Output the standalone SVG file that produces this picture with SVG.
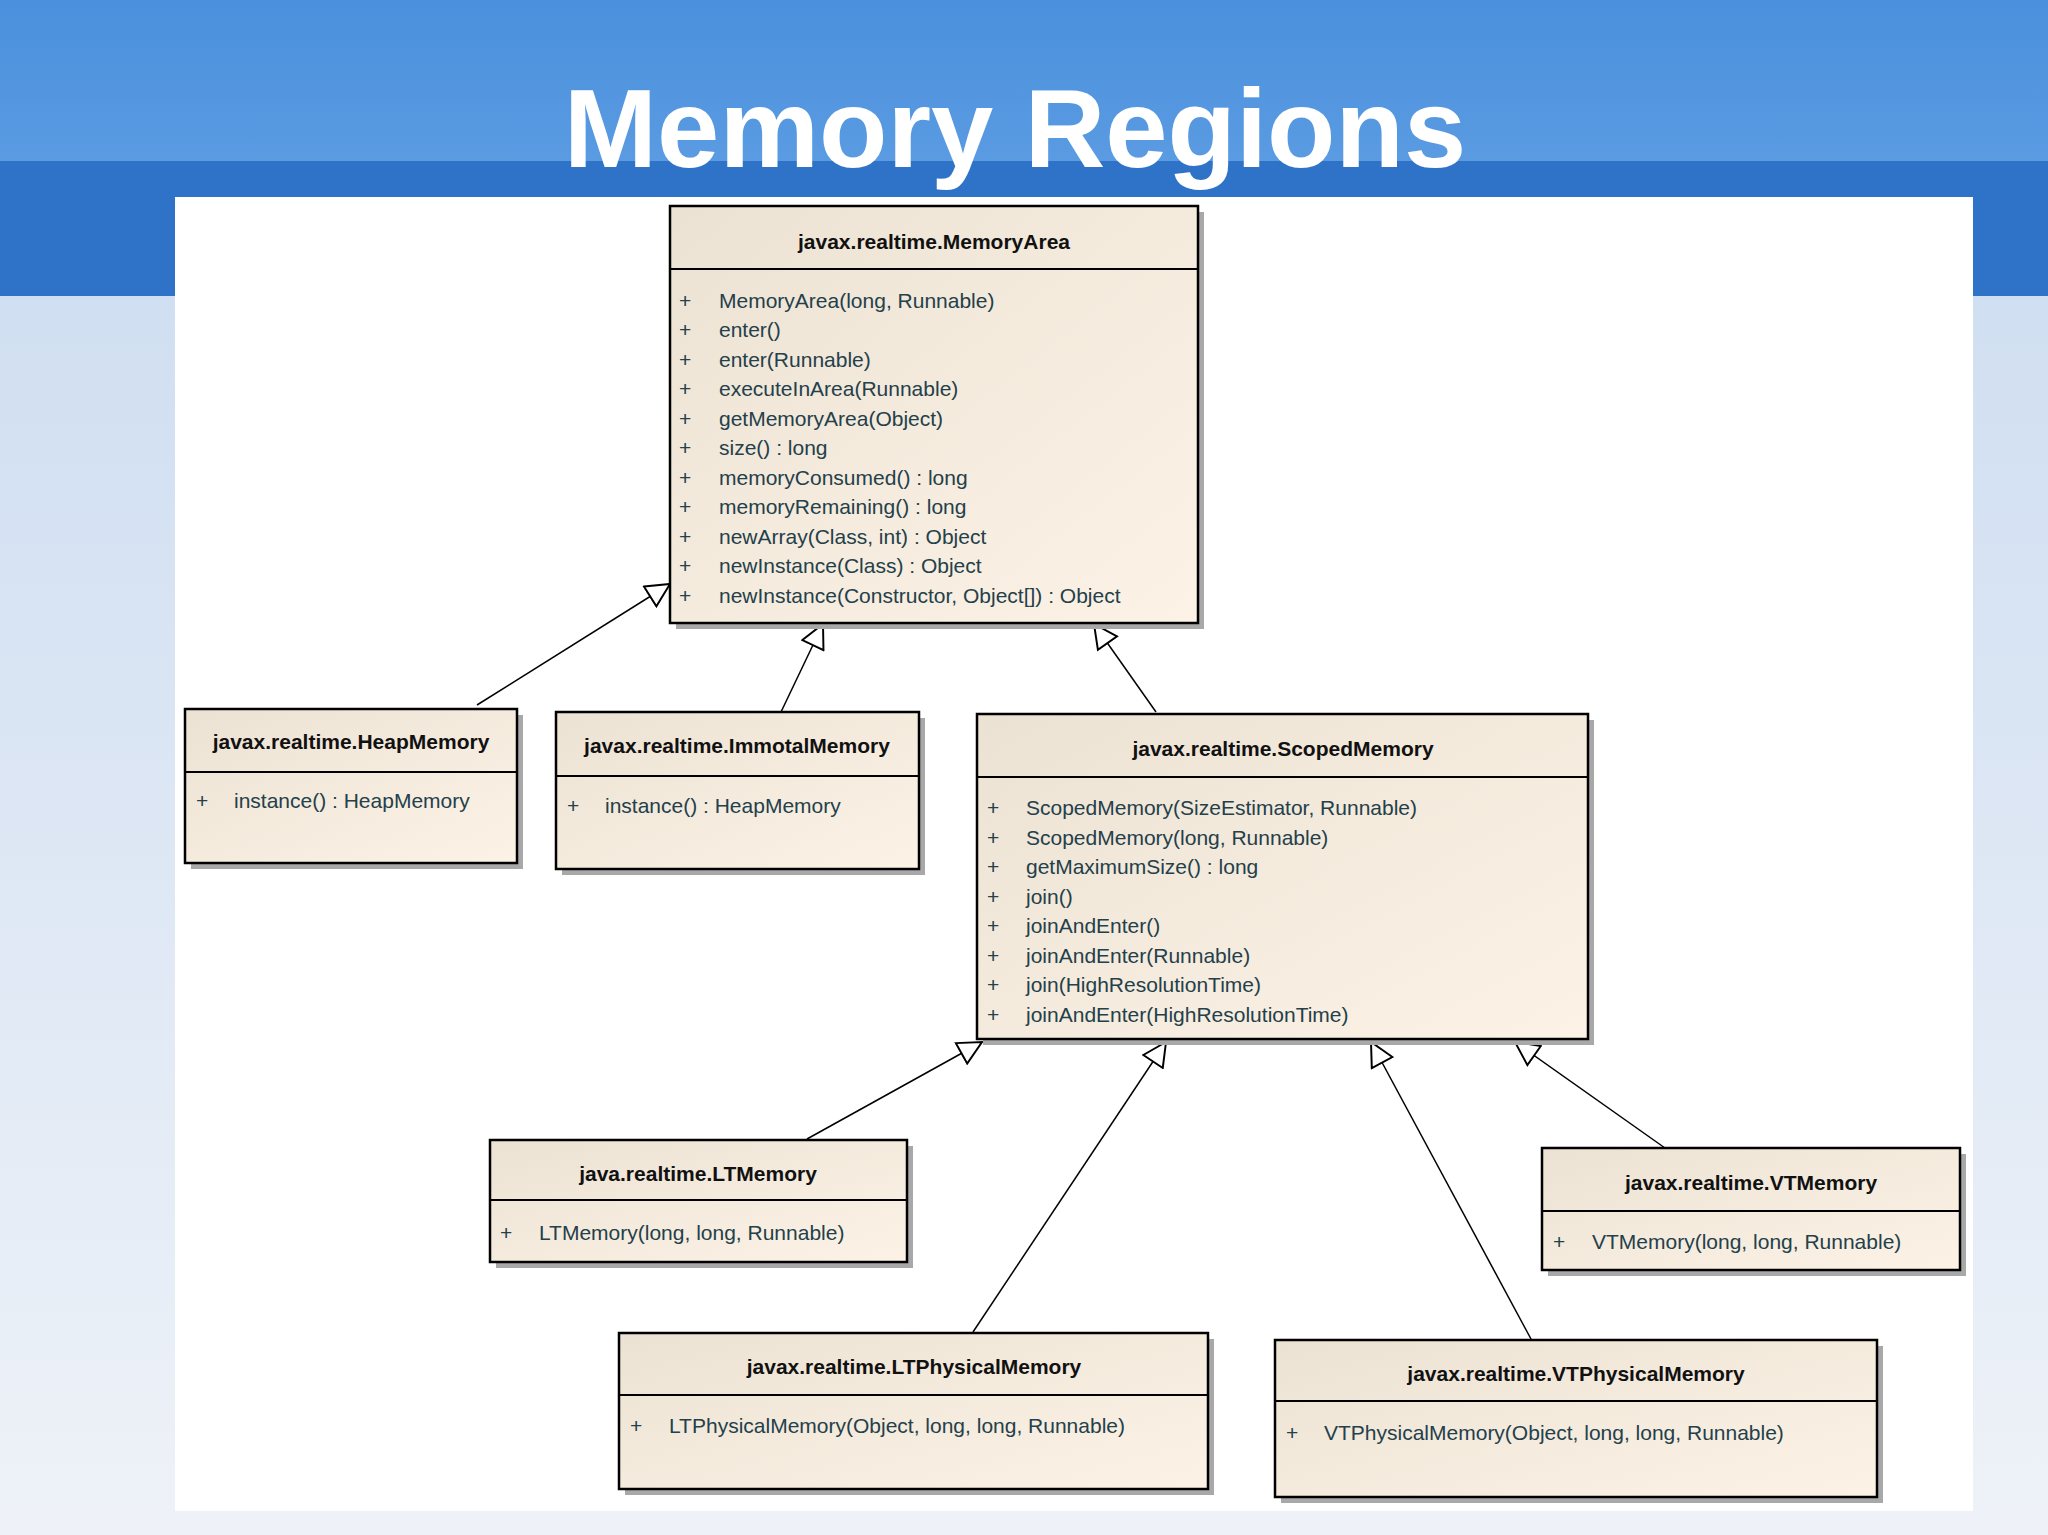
<svg xmlns="http://www.w3.org/2000/svg" width="2048" height="1535" viewBox="0 0 2048 1535">
<defs>
<linearGradient id="bg" x1="0" y1="0" x2="0" y2="1"><stop offset="0" stop-color="#c9daf0"/><stop offset="1" stop-color="#eef2f8"/></linearGradient>
<linearGradient id="band" x1="0" y1="0" x2="0" y2="1"><stop offset="0" stop-color="#4a90dc"/><stop offset="1" stop-color="#5a9be2"/></linearGradient>
<linearGradient id="box" x1="0" y1="0" x2="1" y2="1"><stop offset="0" stop-color="#ece2d4"/><stop offset="1" stop-color="#fcf3e6"/></linearGradient>
<marker id="tri" viewBox="0 0 20 20" refX="19" refY="10" markerWidth="26" markerHeight="26" markerUnits="userSpaceOnUse" orient="auto"><path d="M1,1 L19,10 L1,19 Z" fill="#fff" stroke="#000" stroke-width="1.5"/></marker>
</defs>
<style>
.box{fill:url(#box);stroke:#000;stroke-width:2.5}
.sh{fill:#a8a8a8}
.t{font-family:"Liberation Sans",Arial,sans-serif;font-size:21px;font-weight:bold;fill:#111;text-anchor:middle}
.m{font-family:"Liberation Sans",Arial,sans-serif;font-size:21px;fill:#24404a}
.ln{stroke:#000;stroke-width:2}
.c{stroke:#000;stroke-width:1.5;fill:none;marker-end:url(#tri)}
</style>
<rect width="2048" height="1535" fill="url(#bg)"/>
<rect width="2048" height="296" fill="#2f73c8"/>
<rect width="2048" height="161" fill="url(#band)"/>
<rect x="175" y="197" width="1798" height="1314" fill="#fff"/>
<text x="1015" y="167" font-family="Liberation Sans,Arial,sans-serif" font-size="112" font-weight="bold" fill="#fff" text-anchor="middle">Memory Regions</text>
<g id="connectors">
<line class="c" x1="477" y1="705" x2="670" y2="584"/>
<line class="c" x1="781" y1="712" x2="823" y2="624"/>
<line class="c" x1="1156" y1="712" x2="1094" y2="624"/>
<line class="c" x1="807" y1="1139" x2="982" y2="1042"/>
<line class="c" x1="973" y1="1332" x2="1166" y2="1042"/>
<line class="c" x1="1531" y1="1339" x2="1371" y2="1042"/>
<line class="c" x1="1665" y1="1148" x2="1515" y2="1042"/>
</g>
<g id="MemoryArea">
<rect class="sh" x="676" y="212" width="528" height="417"/>
<rect class="box" x="670" y="206" width="528" height="417"/>
<line class="ln" x1="670" y1="269" x2="1198" y2="269"/>
<text class="t" x="934" y="249">javax.realtime.MemoryArea</text>
<g class="m">
<text x="679" y="308">+</text><text x="719" y="308">MemoryArea(long, Runnable)</text>
<text x="679" y="337">+</text><text x="719" y="337">enter()</text>
<text x="679" y="367">+</text><text x="719" y="367">enter(Runnable)</text>
<text x="679" y="396">+</text><text x="719" y="396">executeInArea(Runnable)</text>
<text x="679" y="426">+</text><text x="719" y="426">getMemoryArea(Object)</text>
<text x="679" y="455">+</text><text x="719" y="455">size() : long</text>
<text x="679" y="485">+</text><text x="719" y="485">memoryConsumed() : long</text>
<text x="679" y="514">+</text><text x="719" y="514">memoryRemaining() : long</text>
<text x="679" y="544">+</text><text x="719" y="544">newArray(Class, int) : Object</text>
<text x="679" y="573">+</text><text x="719" y="573">newInstance(Class) : Object</text>
<text x="679" y="603">+</text><text x="719" y="603">newInstance(Constructor, Object[]) : Object</text>
</g>
</g>
<g id="HeapMemory">
<rect class="sh" x="191" y="715" width="332" height="154"/>
<rect class="box" x="185" y="709" width="332" height="154"/>
<line class="ln" x1="185" y1="772" x2="517" y2="772"/>
<text class="t" x="351" y="749">javax.realtime.HeapMemory</text>
<text class="m" x="196" y="808">+</text><text class="m" x="234" y="808">instance() : HeapMemory</text>
</g>
<g id="ImmotalMemory">
<rect class="sh" x="562" y="718" width="363" height="157"/>
<rect class="box" x="556" y="712" width="363" height="157"/>
<line class="ln" x1="556" y1="776" x2="919" y2="776"/>
<text class="t" x="737" y="753">javax.realtime.ImmotalMemory</text>
<text class="m" x="567" y="813">+</text><text class="m" x="605" y="813">instance() : HeapMemory</text>
</g>
<g id="ScopedMemory">
<rect class="sh" x="983" y="720" width="611" height="325"/>
<rect class="box" x="977" y="714" width="611" height="325"/>
<line class="ln" x1="977" y1="777" x2="1588" y2="777"/>
<text class="t" x="1283" y="756">javax.realtime.ScopedMemory</text>
<g class="m">
<text x="987" y="815">+</text><text x="1026" y="815">ScopedMemory(SizeEstimator, Runnable)</text>
<text x="987" y="845">+</text><text x="1026" y="845">ScopedMemory(long, Runnable)</text>
<text x="987" y="874">+</text><text x="1026" y="874">getMaximumSize() : long</text>
<text x="987" y="904">+</text><text x="1026" y="904">join()</text>
<text x="987" y="933">+</text><text x="1026" y="933">joinAndEnter()</text>
<text x="987" y="963">+</text><text x="1026" y="963">joinAndEnter(Runnable)</text>
<text x="987" y="992">+</text><text x="1026" y="992">join(HighResolutionTime)</text>
<text x="987" y="1022">+</text><text x="1026" y="1022">joinAndEnter(HighResolutionTime)</text>
</g>
</g>
<g id="LTMemory">
<rect class="sh" x="496" y="1146" width="417" height="122"/>
<rect class="box" x="490" y="1140" width="417" height="122"/>
<line class="ln" x1="490" y1="1200" x2="907" y2="1200"/>
<text class="t" x="698" y="1181">java.realtime.LTMemory</text>
<text class="m" x="500" y="1240">+</text><text class="m" x="539" y="1240">LTMemory(long, long, Runnable)</text>
</g>
<g id="VTMemory">
<rect class="sh" x="1548" y="1154" width="418" height="122"/>
<rect class="box" x="1542" y="1148" width="418" height="122"/>
<line class="ln" x1="1542" y1="1211" x2="1960" y2="1211"/>
<text class="t" x="1751" y="1190">javax.realtime.VTMemory</text>
<text class="m" x="1553" y="1249">+</text><text class="m" x="1592" y="1249">VTMemory(long, long, Runnable)</text>
</g>
<g id="LTPhysicalMemory">
<rect class="sh" x="625" y="1339" width="589" height="156"/>
<rect class="box" x="619" y="1333" width="589" height="156"/>
<line class="ln" x1="619" y1="1395" x2="1208" y2="1395"/>
<text class="t" x="914" y="1374">javax.realtime.LTPhysicalMemory</text>
<text class="m" x="630" y="1433">+</text><text class="m" x="669" y="1433">LTPhysicalMemory(Object, long, long, Runnable)</text>
</g>
<g id="VTPhysicalMemory">
<rect class="sh" x="1281" y="1346" width="602" height="157"/>
<rect class="box" x="1275" y="1340" width="602" height="157"/>
<line class="ln" x1="1275" y1="1401" x2="1877" y2="1401"/>
<text class="t" x="1576" y="1381">javax.realtime.VTPhysicalMemory</text>
<text class="m" x="1286" y="1440">+</text><text class="m" x="1324" y="1440">VTPhysicalMemory(Object, long, long, Runnable)</text>
</g>
</svg>
